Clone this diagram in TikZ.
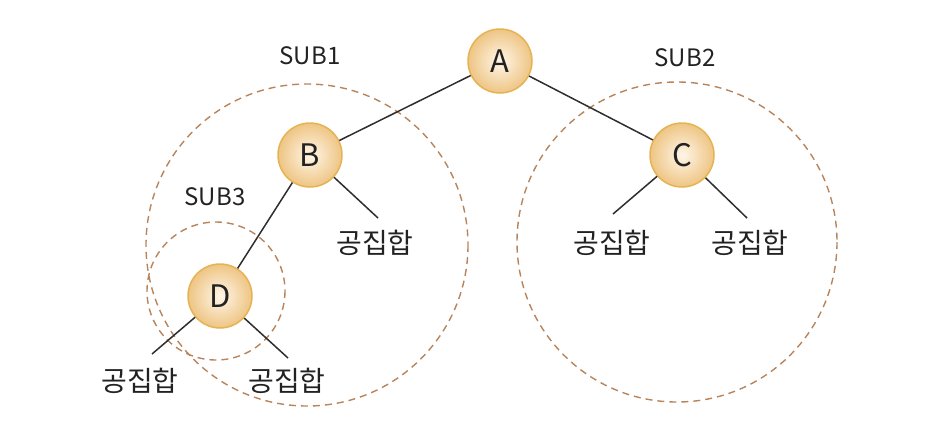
\documentclass[tikz,border=0pt]{standalone}
\usepackage{fontspec}
\setmainfont{Noto Sans CJK KR}
\definecolor{nodeedge}{HTML}{E6B352}
\definecolor{nodein}{HTML}{FFF6E8}
\definecolor{nodeout}{HTML}{EEC584}
\definecolor{dashcol}{HTML}{B8845C}
\definecolor{linecol}{HTML}{2E2E2E}
\definecolor{txtcol}{HTML}{222222}
\begin{document}
\begin{tikzpicture}[x=1pt,y=-1pt,
  treenode/.style={circle,minimum size=64pt,inner sep=0pt,draw=nodeedge,line width=1.5pt,
    inner color=nodein,outer color=nodeout,font=\fontsize{31}{31}\selectfont,text=txtcol},
  leaf/.style={font=\fontsize{28}{28}\selectfont,text=txtcol,inner sep=0pt},
  sublabel/.style={font=\fontsize{24}{24}\selectfont,text=txtcol,inner sep=0pt},
  edge/.style={draw=linecol,line width=1.5pt},
  subset/.style={draw=dashcol,line width=1.4pt,dash pattern=on 7pt off 5pt}]
\useasboundingbox (0,0) rectangle (932,432);
% dashed subtree circles
\draw[subset] (307,245) circle (161);
\draw[subset] (677,242) circle (160);
\draw[subset] (216,291) circle (69);
% nodes
\node[treenode] (A) at (500,61) {A};
\node[treenode] (B) at (310,155) {B};
\node[treenode] (C) at (682,155) {C};
\node[treenode] (D) at (220,296) {D};
% leaf ends
\coordinate (b1) at (378,218);
\coordinate (c1) at (613,214);
\coordinate (c2) at (747,218);
\coordinate (d1) at (152,354);
\coordinate (d2) at (288,358);
% edges
\draw[edge] (A) -- (B);
\draw[edge] (A) -- (C);
\draw[edge] (B) -- (D);
\draw[edge] (B) -- (b1);
\draw[edge] (C) -- (c1);
\draw[edge] (C) -- (c2);
\draw[edge] (D) -- (d1);
\draw[edge] (D) -- (d2);
% leaf labels
\node[leaf] (lb1) at (375,243) {공집합};
\node[leaf] (lc1) at (612,243) {공집합};
\node[leaf] (lc2) at (750,243) {공집합};
\node[leaf] (ld1) at (140,381) {공집합};
\node[leaf] (ld2) at (287,381) {공집합};
% subset labels
\node[sublabel] (s1) at (310,56) {SUB1};
\node[sublabel] (s2) at (685,58) {SUB2};
\node[sublabel] (s3) at (215,197) {SUB3};
\end{tikzpicture}
\end{document}
